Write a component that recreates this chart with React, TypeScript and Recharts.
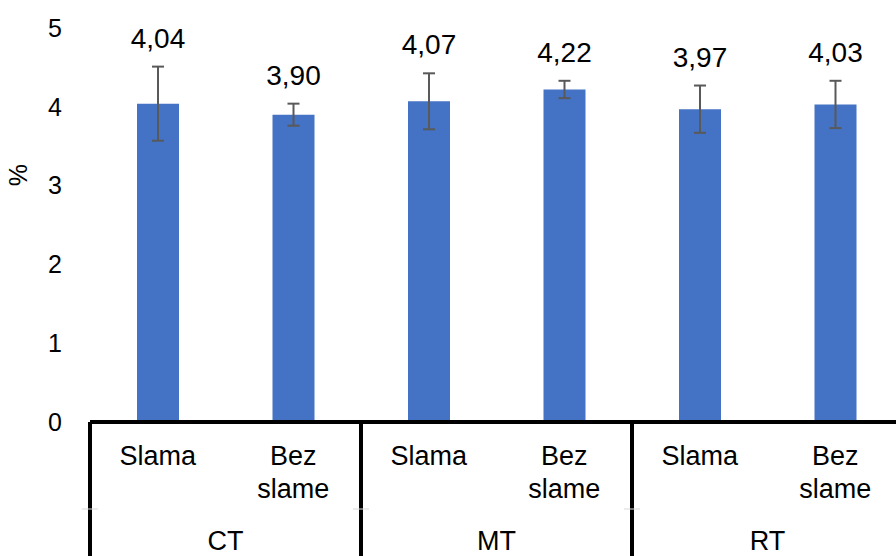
import { Bar, BarChart, ErrorBar, LabelList, XAxis, YAxis } from "recharts";

const categories = ["Slama", "Bez slame", "Slama", "Bez slame", "Slama", "Bez slame"];
const groups = ["CT", "CT", "MT", "MT", "RT", "RT"];
const values = [4.04, 3.9, 4.07, 4.22, 3.97, 4.03];
const errors = [0.47, 0.14, 0.355, 0.11, 0.3, 0.3];
const yTicks = [0, 1, 2, 3, 4, 5];

const data = categories.map((name, i) => ({
  name,
  group: groups[i],
  value: values[i],
  err: errors[i],
}));

const FONT = '"Liberation Sans", Arial, sans-serif';

function CategoryTick(props: any) {
  const { x, y, payload, index } = props;
  const half = payload.offset ?? 67.75;
  const lines = String(payload.value).split(" ");
  const first = index === 0 || groups[index] !== groups[index - 1];
  const last = index === groups.length - 1;
  return (
    <g>
      <text textAnchor="middle" fontFamily={FONT} fontSize={27} fill="#000">
        {lines.map((l, i) => (
          <tspan key={i} x={x} y={y + 43 + i * 33}>
            {l}
          </tspan>
        ))}
      </text>
      {first && (
        <g>
          <line x1={x - half} y1={y} x2={x - half} y2={y + 140} stroke="#000" strokeWidth={4} />
          <line x1={x - half - 8} y1={y + 87} x2={x - half + 8} y2={y + 87} stroke="#d9d9d9" strokeWidth={1} />
          <text x={x + half} y={y + 128} textAnchor="middle" fontFamily={FONT} fontSize={27} fill="#000">
            {groups[index]}
          </text>
        </g>
      )}
      {last && (
        <line x1={x + half} y1={y} x2={x + half} y2={y + 140} stroke="#000" strokeWidth={4} />
      )}
    </g>
  );
}

function ValueLabel(props: any) {
  const { x, y, width, height, value, index } = props;
  const perUnit = height / value;
  const errTop = y - errors[index] * perUnit;
  return (
    <text
      x={x + width / 2}
      y={errTop - 19}
      textAnchor="middle"
      fontFamily={FONT}
      fontSize={28}
      fill="#000"
    >
      {Number(value).toFixed(2).replace(".", ",")}
    </text>
  );
}

export default function App() {
  return (
    <div style={{ position: "fixed", left: 0, top: 0, width: 896, height: 556, overflow: "hidden", background: "#fff" }}>
      <BarChart
        width={903}
        height={556}
        data={data}
        margin={{ top: 28, right: 0, left: 0, bottom: 0 }}
      >
        <XAxis
          dataKey="name"
          height={134}
          interval={0}
          tickSize={0}
          tickMargin={0}
          tickLine={false}
          axisLine={{ stroke: "#000", strokeWidth: 4 }}
          tick={<CategoryTick />}
        />
        <YAxis
          width={90}
          domain={[0, 5]}
          ticks={yTicks}
          tickLine={false}
          axisLine={false}
          tickSize={0}
          tickMargin={28}
          tick={{ fontSize: 25, fill: "#000", fontFamily: FONT }}
          label={({ viewBox }: any) => (
            <text
              x={18}
              y={viewBox.y + viewBox.height / 2 - 50}
              transform={`rotate(-90 18 ${viewBox.y + viewBox.height / 2 - 50})`}
              textAnchor="middle"
              dominantBaseline="central"
              fontFamily={FONT}
              fontSize={25}
              fill="#000"
            >
              %
            </text>
          )}
        />
        <Bar dataKey="value" fill="#4472C4" barSize={42} isAnimationActive={false}>
          <ErrorBar dataKey="err" direction="y" width={6} strokeWidth={2} stroke="#595959" />
          <LabelList dataKey="value" content={<ValueLabel />} />
        </Bar>
      </BarChart>
    </div>
  );
}
